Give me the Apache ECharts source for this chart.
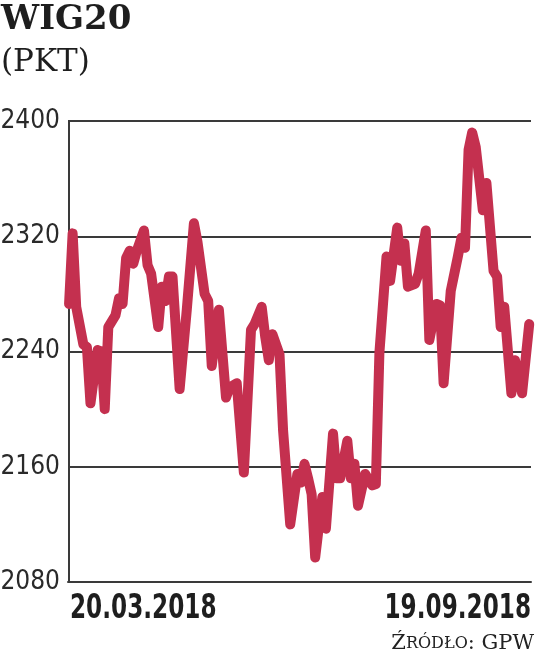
<!DOCTYPE html>
<html>
<head>
<meta charset="utf-8">
<script src="https://cdn.jsdelivr.net/npm/echarts@6/dist/echarts.min.js"></script>
<style>
html,body{margin:0;padding:0;background:#fff;}
#chart{width:536px;height:664px;}
</style>
</head>
<body>
<div id="chart"></div>
<script>
// Session index (trading days from 20.03.2018) at the polyline vertices
var sessionIndex = [0,1,2,4,5,6,8,9,10,11,13,14,15,16,17,18,19,21,22,23,25,26,27,28,29,31,33,35,36,38,39,40,42,44,45,47,49,51,52,54,55,56,57,59,60,62,64,65,66,67,68,69,71,72,74,75,76,78,79,80,81,83,85,86,87,89,90,92,93,94,95,97,98,100,101,103,104,105,107,109,110,111,112,113,114,116,117,119,120,121,122,124,125,127,129];
// WIG20 closing level (pkt)
var wig20 = [2273,2322,2271,2245,2243,2204,2241,2240,2200,2257,2265,2277,2273,2305,2310,2301,2310,2324,2300,2294,2257,2285,2275,2292,2292,2214,2269,2329,2316,2280,2275,2230,2269,2208,2215,2218,2156,2255,2259,2271,2250,2234,2252,2238,2185,2120,2155,2149,2162,2152,2141,2097,2139,2117,2183,2152,2152,2178,2152,2162,2133,2155,2147,2148,2239,2306,2289,2326,2303,2315,2285,2287,2294,2324,2248,2273,2272,2218,2282,2306,2319,2312,2380,2392,2382,2338,2357,2296,2292,2257,2271,2211,2234,2211,2259];
var yTicks = [2080, 2160, 2240, 2320, 2400];
var xTickLabels = ['20.03.2018', '19.09.2018'];
var titleText = 'WIG20';
var unitText = '(PKT)';

var seriesData = sessionIndex.map(function (d, i) { return [d, wig20[i]]; });

var chart = echarts.init(document.getElementById('chart'), null, {renderer: 'canvas'});
var axisColor = '#3a3a3a';
var condensed = "'Liberation Sans Narrow', 'DejaVu Sans Condensed', sans-serif";
chart.setOption({
  animation: false,
  backgroundColor: '#ffffff',
  grid: {left: 68, right: 5, top: 121, bottom: 82, containLabel: false, outerBoundsMode: 'none'},
  title: [
    {text: titleText, left: 1, top: 3, padding: 0,
     textStyle: {fontFamily: 'DejaVu Serif', fontWeight: 'bold', fontSize: 34, color: '#1e1e1e'}},
    {text: unitText, left: 1, top: 47, padding: 0,
     textStyle: {fontFamily: 'DejaVu Serif', fontWeight: 'normal', fontSize: 31, color: '#1e1e1e'}},
    {text: '{a|Ź}{b|RÓDŁO}{a|: GPW}', right: 2, bottom: 10, padding: 0,
     textStyle: {rich: {
       a: {fontFamily: 'DejaVu Serif', fontWeight: 'normal', fontSize: 21, color: '#222'},
       b: {fontFamily: 'DejaVu Serif', fontWeight: 'normal', fontSize: 16, color: '#222'}
     }}}
  ],
  xAxis: {
    type: 'value', min: -0.3, max: 129.5,
    axisLine: {show: true, onZero: false, lineStyle: {color: axisColor, width: 2}},
    axisTick: {show: false}, axisLabel: {show: false}, splitLine: {show: false}
  },
  yAxis: {
    type: 'value', min: yTicks[0], max: yTicks[yTicks.length - 1], interval: 80,
    axisLine: {show: true, lineStyle: {color: axisColor, width: 2}},
    axisTick: {show: false},
    axisLabel: {color: '#2a2a2a', fontSize: 26, fontFamily: condensed, margin: 8,
      formatter: function (v) { return String(v); }},
    splitLine: {show: true, lineStyle: {color: axisColor, width: 2}}
  },
  graphic: [
    {type: 'text', x: 70, y: 593, scaleX: 0.78,
     style: {text: xTickLabels[0], align: 'left', verticalAlign: 'top', fontFamily: condensed, fontWeight: 'bold', fontSize: 33, fill: '#1e1e1e'}},
    {type: 'text', x: 531, y: 593, scaleX: 0.78,
     style: {text: xTickLabels[1], align: 'right', verticalAlign: 'top', fontFamily: condensed, fontWeight: 'bold', fontSize: 33, fill: '#1e1e1e'}}
  ],
  series: [{
    type: 'line', data: seriesData, showSymbol: false, smooth: false,
    lineStyle: {color: '#c4304f', width: 10, join: 'round', cap: 'round'}
  }]
});
</script>
</body>
</html>
